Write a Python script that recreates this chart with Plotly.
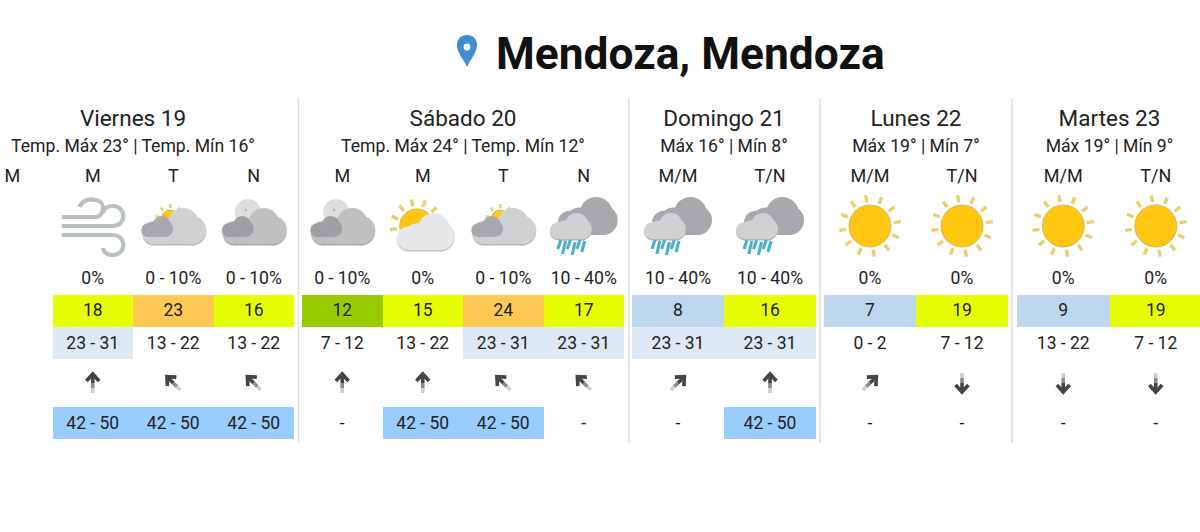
import math
import plotly.graph_objects as go

title = "Mendoza, Mendoza"
days = ["Viernes 19", "Sábado 20", "Domingo 21", "Lunes 22", "Martes 23"]
day_temps = ["Temp. Máx 23° | Temp. Mín 16°", "Temp. Máx 24° | Temp. Mín 12°",
             "Máx 16° | Mín 8°", "Máx 19° | Mín 7°", "Máx 19° | Mín 9°"]
slots_per_day = [4, 4, 2, 2, 2]
slots = ["M", "M", "T", "N", "M", "M", "T", "N", "M/M", "T/N", "M/M", "T/N", "M/M", "T/N"]
icons = [None, "wind", "sun_cloud", "moon", "moon", "big_sun", "sun_cloud", "rain",
         "rain", "rain", "sun", "sun", "sun", "sun"]
rain = [None, "0%", "0 - 10%", "0 - 10%", "0 - 10%", "0%", "0 - 10%", "10 - 40%",
        "10 - 40%", "10 - 40%", "0%", "0%", "0%", "0%"]
temps = [None, 18, 23, 16, 12, 15, 24, 17, 8, 16, 7, 19, 9, 19]
wind = [None, "23 - 31", "13 - 22", "13 - 22", "7 - 12", "13 - 22", "23 - 31", "23 - 31",
        "23 - 31", "23 - 31", "0 - 2", "7 - 12", "13 - 22", "7 - 12"]
wind_dir = [None, 0, -45, -45, 0, 0, -45, -45, 45, 0, 45, 180, 180, 180]
gust = [None, "42 - 50", "42 - 50", "42 - 50", "-", "42 - 50", "42 - 50", "-",
        "-", "42 - 50", "-", "-", "-", "-"]

# page layout, in pixels
day_left = [-28, 302, 632, 824, 1017]
slot_width = [80.5, 80.5, 92, 92, 92.5]
separators = [298.5, 629, 820, 1012]
TEXT = "#222222"


def temp_color(t):
    if t <= 10:
        return "#bdd7ee"
    if t <= 14:
        return "#99cc00"
    if t <= 22:
        return "#e6ff00"
    return "#ffc852"


centers, widths, day_centers = [], [], []
for left, w, n in zip(day_left, slot_width, slots_per_day):
    centers += [left + w * (i + 0.5) for i in range(n)]
    widths += [w] * n
    day_centers.append(left + w * n / 2)


def circle(cx, cy, r, fill, line=None):
    return dict(type="circle", x0=cx - r, x1=cx + r, y0=cy - r, y1=cy + r, fillcolor=fill,
                line=dict(width=1 if line else 0, color=line or fill), layer="above")


def seg(x0, y0, x1, y1, color, width):
    return dict(type="line", x0=x0, y0=y0, x1=x1, y1=y1, line=dict(color=color, width=width), layer="above")


def cloud(x0, y0, x1, y1, fill, edge=None):
    w, h = x1 - x0, y1 - y0
    out = []
    for dy, color in ([(1.5, edge)] if edge else []) + [(0, fill)]:
        r = 0.31 * h
        r_right = 0.38 * h
        out += [
            circle(x0 + r, y1 - r + dy - 1, r, color),
            circle(x1 - r_right, y1 - r_right + dy - 1, r_right, color),
            circle(x0 + 0.64 * w, y0 + 0.42 * h + dy, 0.42 * h, color),
            circle(x0 + 0.36 * w, y0 + 0.62 * h + dy, 0.35 * h, color),
            dict(type="rect", x0=x0 + r, x1=x1 - r, y0=y1 - 2 * r + dy - 1, y1=y1 + dy - 1,
                 fillcolor=color, line=dict(width=0), layer="above"),
        ]
    return out


def sun(cx, cy, r, ray_in, ray_out, rays=12, start=-8, span=360, ray_w=3.4):
    out = []
    for i in range(rays):
        a = math.radians(start + i * span / rays)
        out.append(seg(cx + ray_in * math.sin(a), cy - ray_in * math.cos(a),
                       cx + ray_out * math.sin(a), cy - ray_out * math.cos(a), "#e8d070", ray_w))
    out.append(circle(cx, cy, r, "#ffc60f", "#dcb75a"))
    return out


def wind_icon(c):
    stroke = dict(color="#b9c1c0", width=4.2)
    paths = [
        f"M {c-31} 217 L {c+2} 217 C {c+13} 217 {c+13} 200 {c+2} 200 C {c-5} 198 {c-12} 202 {c-13} 207",
        f"M {c-31} 226 L {c+20} 226 C {c+34} 226 {c+34} 206 {c+20} 206 C {c+14} 206 {c+11} 209 {c+10} 213",
        f"M {c-31} 235 L {c+20} 235 C {c+34} 235 {c+34} 255 {c+20} 255 C {c+14} 255 {c+11} 252 {c+10} 248",
    ]
    return [dict(type="path", path=p, line=stroke, layer="above") for p in paths]


def rain_icon(c):
    out = cloud(c - 26, 197, c + 34, 236, "#a7a9ac")
    out += cloud(c - 34, 213, c + 8, 240, "#cfd1d3", "#b5b7b9")
    for i, (dy, n) in enumerate(zip([0, 1, 0, 2, 0, 1], [9, 13, 9, 13, 9, 11])):
        x = c - 23 + i * 4.8
        out.append(seg(x, 240 + dy, x - 3, 240 + dy + n, "#4cb0cc", 3.1))
    return out


def draw_icon(kind, c):
    if kind == "wind":
        return wind_icon(c)
    if kind == "sun":
        return sun(c, 226, 21, 24, 31)
    if kind == "sun_cloud":
        return (sun(c - 3, 219, 9, 11, 15, rays=4, start=-80, span=160, ray_w=2.6)
                + cloud(c - 31, 208, c + 33, 245, "#cfd1d3", "#b8babc")
                + cloud(c - 32, 216, c, 238, "#a7a9ac"))
    if kind == "moon":
        return ([circle(c - 6, 212, 13, "#dedede"), circle(c - 8, 210, 1.2, "#b5b5b5")]
                + cloud(c - 31, 208, c + 33, 245, "#bfc0c1", "#a9abad")
                + cloud(c - 32, 216, c, 238, "#9ea0a3"))
    if kind == "big_sun":
        return (sun(c - 6, 226, 17, 20, 27, rays=6, start=-98, span=174)
                + cloud(c - 26, 213, c + 32, 251, "#e6e7e8", "#c4c5c6"))
    if kind == "rain":
        return rain_icon(c)
    return []


def text_row(y, labels, xs, size, color=TEXT):
    pts = [(x, t) for x, t in zip(xs, labels) if t is not None]
    return go.Scatter(x=[p[0] for p in pts], y=[y] * len(pts), text=[str(p[1]) for p in pts],
                      mode="text", textposition="middle center",
                      textfont=dict(family="Roboto", size=size, color=color),
                      hoverinfo="skip", showlegend=False)


def cell_row(top, height, labels, fills):
    idx = [i for i, f in enumerate(fills) if f]
    return go.Bar(x=[centers[i] for i in idx], width=[widths[i] for i in idx],
                  base=[top] * len(idx), y=[height] * len(idx),
                  marker=dict(color=[fills[i] for i in idx], line=dict(width=0)),
                  hoverinfo="skip", showlegend=False)


fig = go.Figure()

fig.add_trace(cell_row(295, 32, temps, [temp_color(t) if t is not None else None for t in temps]))
fig.add_trace(cell_row(327, 32, wind, ["#dde9f5" if v == "23 - 31" else None for v in wind]))
fig.add_trace(cell_row(407, 32, gust, ["#99ccff" if v == "42 - 50" else None for v in gust]))

fig.add_trace(text_row(120, days, day_centers, 22.5))
fig.add_trace(text_row(148, day_temps, day_centers, 17.6))
fig.add_trace(text_row(177, slots, centers, 18))
fig.add_trace(text_row(280, rain, centers, 17.6))
fig.add_trace(text_row(312, temps, centers, 17.5))
fig.add_trace(text_row(345, wind, centers, 17.5))
fig.add_trace(text_row(425, gust, centers, 17.5))

# wind arrows: shaft fades towards the tail, head is a chevron
for c, d in zip(centers, wind_dir):
    if d is None:
        continue
    a = math.radians(d)
    ux, uy = math.sin(a), -math.cos(a)
    cy = 383
    half = 10
    tip_x, tip_y = c + ux * (half - 1), cy + uy * (half - 1)
    for frm, to, color in [(-half, -half * 0.5, "#cfcfcf"), (-half * 0.5, 0, "#8a8a8a"), (0, half - 1, "#444444")]:
        fig.add_trace(go.Scatter(x=[c + ux * frm, c + ux * to], y=[cy + uy * frm, cy + uy * to], mode="lines",
                                 line=dict(color=color, width=3.6), hoverinfo="skip", showlegend=False))
    arm_x, arm_y = [], []
    for side in (-1, 1):
        b = a + math.pi + side * math.radians(42)
        arm_x.append(tip_x + 9.5 * math.sin(b))
        arm_y.append(tip_y - 9.5 * math.cos(b))
    fig.add_trace(go.Scatter(x=[arm_x[0], tip_x, arm_x[1]], y=[arm_y[0], tip_y, arm_y[1]], mode="lines",
                             line=dict(color="#444444", width=3.6), hoverinfo="skip", showlegend=False))

shapes = []
for x in separators:
    shapes.append(seg(x, 98, x, 443, "#dddddd", 1.5))
for kind, c in zip(icons, centers):
    shapes += draw_icon(kind, c)

# map pin next to the title
shapes.append(dict(type="path", fillcolor="#3d8fd1", line=dict(width=0), layer="above",
                   path="M 467 67 C 463 58 457 53 457 45 C 457 39 461 35 467 35 "
                        "C 473 35 477 39 477 45 C 477 53 471 58 467 67 Z"))
shapes.append(circle(467, 47, 3.4, "#ffffff"))

fig.update_layout(
    width=1200, height=532, margin=dict(l=0, r=0, t=0, b=0),
    paper_bgcolor="white", plot_bgcolor="white", barmode="overlay", bargap=0,
    title=dict(text=f"<b>{title}</b>", x=496 / 1200, xanchor="left", y=1 - 53 / 532, yanchor="middle",
               font=dict(family="Roboto", size=44.3, color="#111111")),
    xaxis=dict(range=[0, 1200], visible=False, fixedrange=True),
    yaxis=dict(range=[532, 0], visible=False, fixedrange=True),
    shapes=shapes,
)

fig.write_html("out.html", post_script="document.body.style.margin='0';",
               config=dict(displayModeBar=False))
